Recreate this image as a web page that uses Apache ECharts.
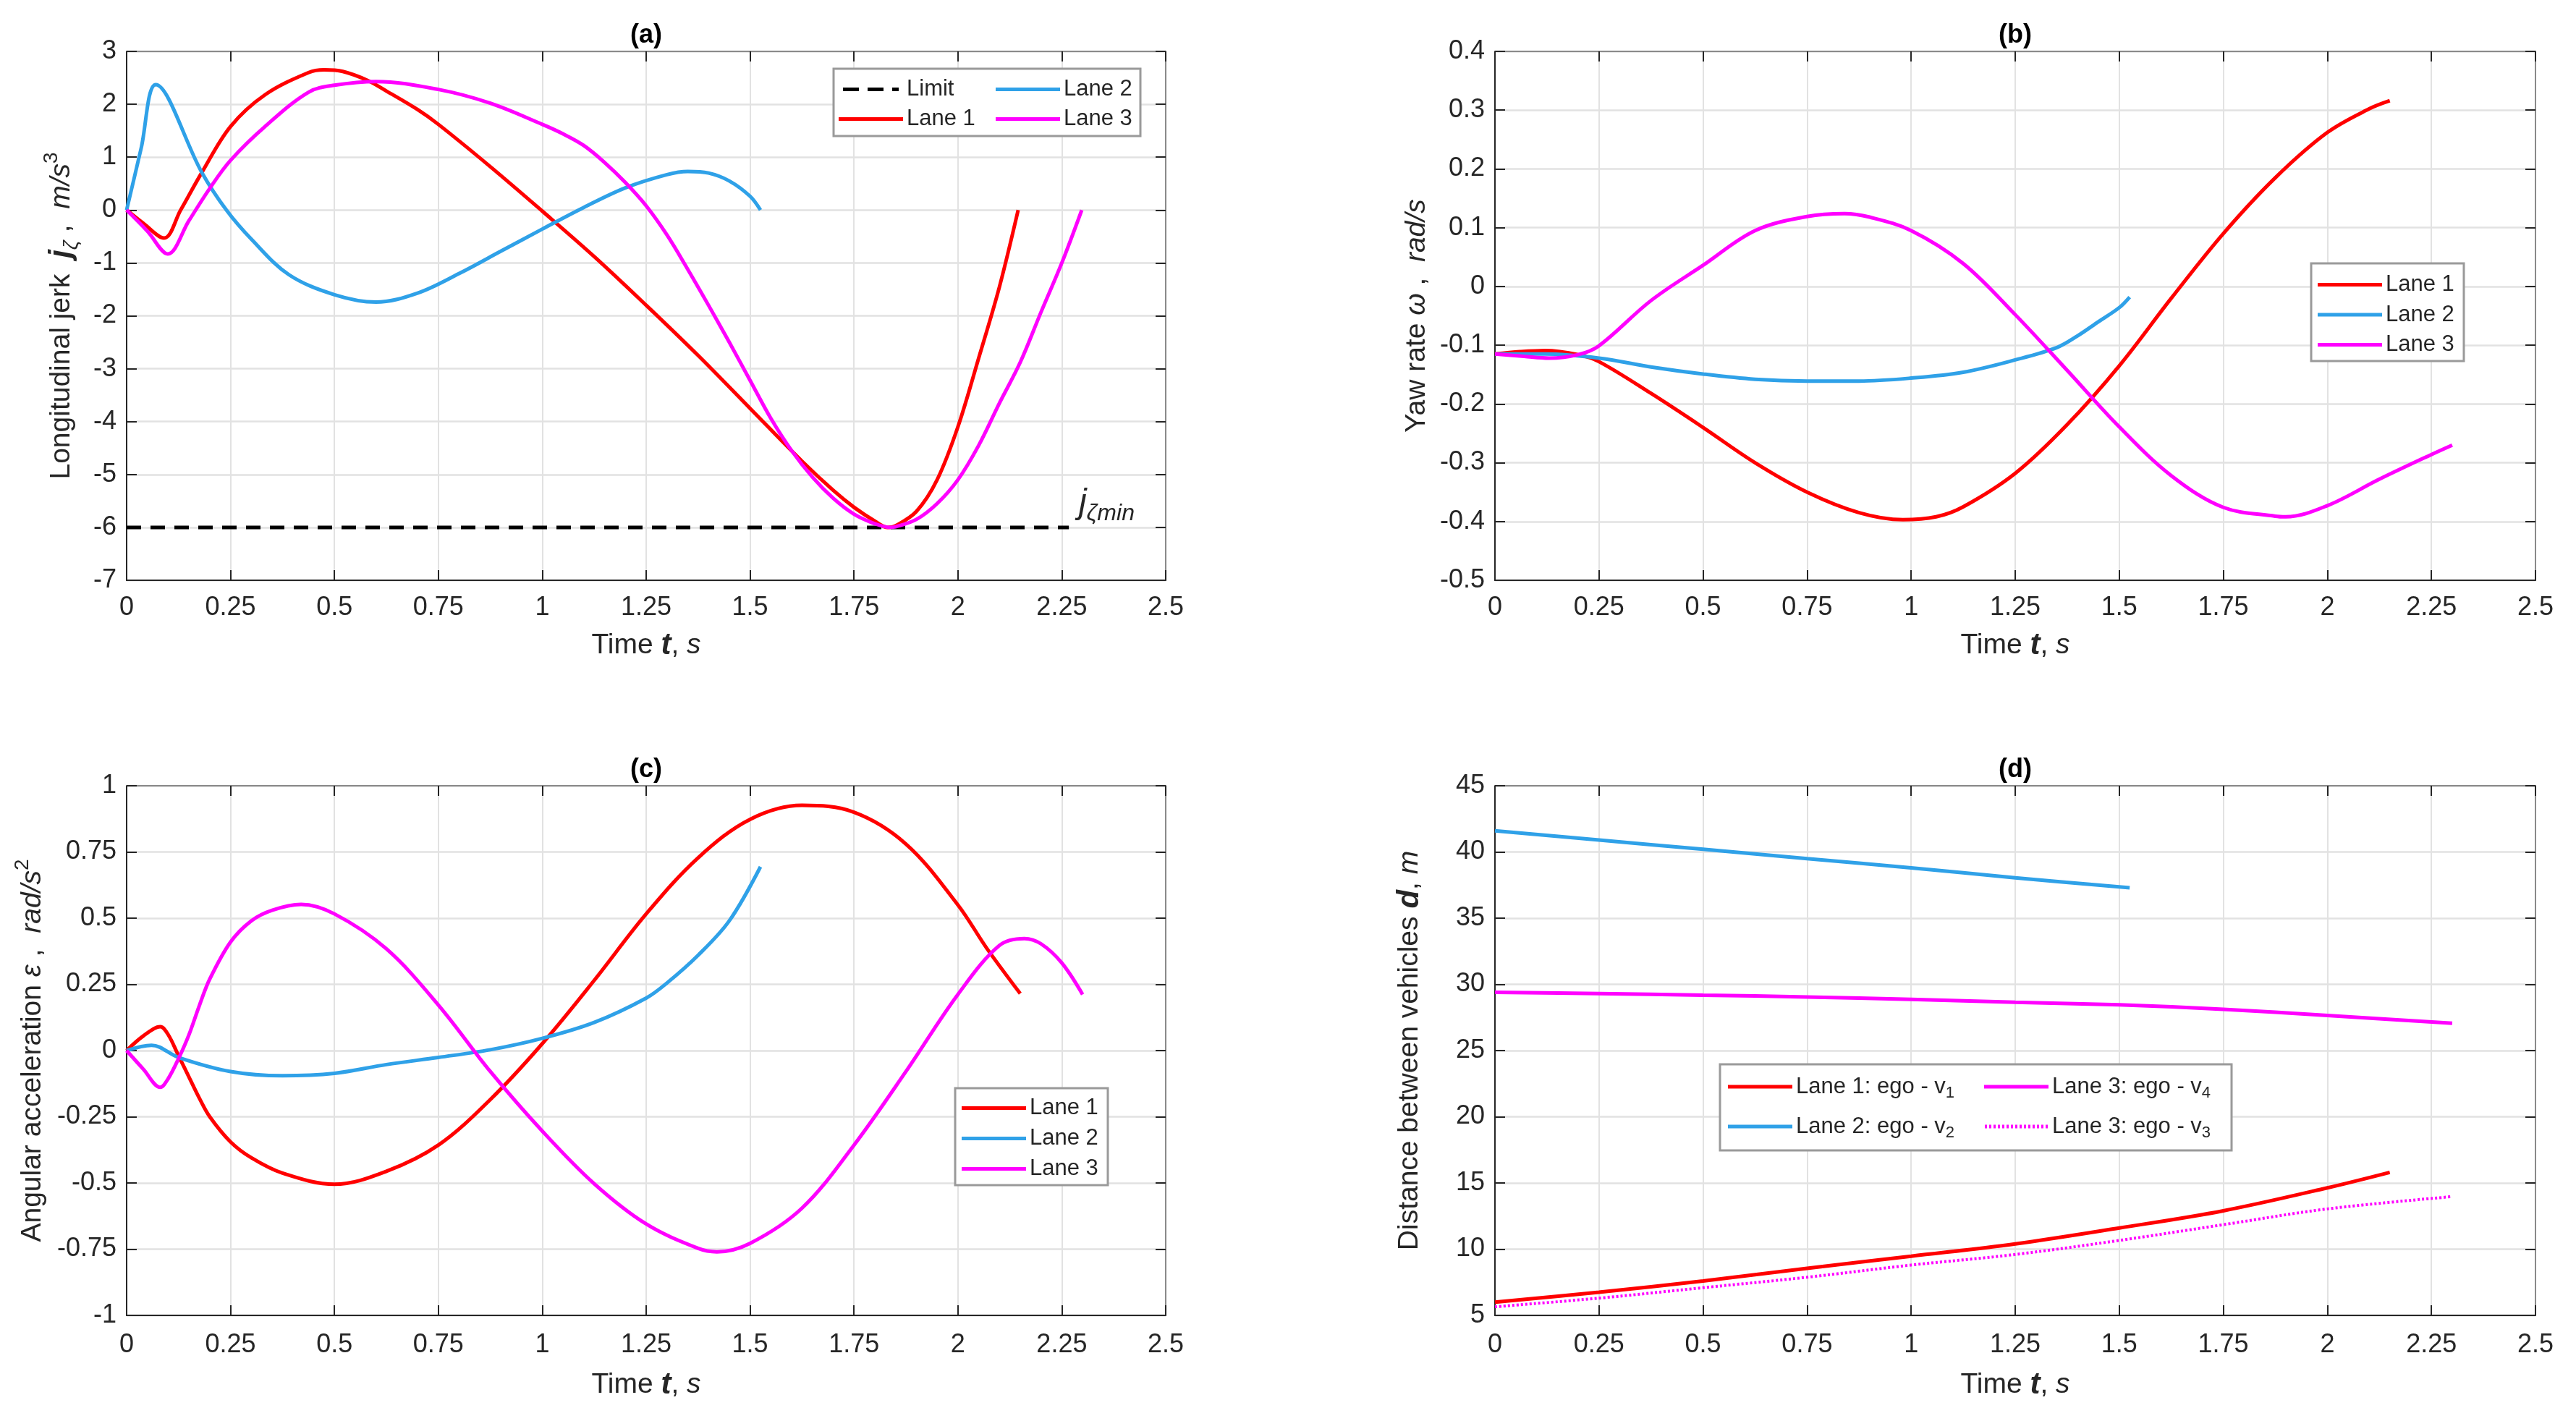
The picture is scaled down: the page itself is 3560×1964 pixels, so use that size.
<!DOCTYPE html>
<html>
<head>
<meta charset="utf-8">
<script src="https://cdn.jsdelivr.net/npm/echarts@6/dist/echarts.min.js"></script>
<style>
html,body{margin:0;padding:0;background:#fff;}
#chart{width:3560px;height:1964px;}
</style>
</head>
<body>
<div id="chart"></div>
<script>
// ---------- DATA ----------
// time ticks
const timeTicks = {min: 0, max: 2.5, interval: 0.25};

// (a) Longitudinal jerk
const a_lane1_t = [0, 0.04, 0.09, 0.13, 0.181, 0.25, 0.333, 0.438, 0.475, 0.52, 0.58, 0.625, 0.7, 0.75, 0.875, 1.0, 1.125, 1.25, 1.375, 1.5, 1.625, 1.7, 1.75, 1.8, 1.831, 1.85, 1.9, 1.95, 2.0, 2.05, 2.1, 2.145];
const a_lane1_j = [0, -0.25, -0.53, 0.0, 0.71, 1.58, 2.18, 2.6, 2.65, 2.62, 2.45, 2.25, 1.9, 1.62, 0.82, -0.02, -0.88, -1.8, -2.75, -3.75, -4.75, -5.3, -5.62, -5.88, -6.0, -5.97, -5.7, -5.1, -4.1, -2.8, -1.45, 0];
const a_lane2_t = [0, 0.035, 0.07, 0.181, 0.24, 0.3, 0.39, 0.5, 0.6, 0.7, 0.8, 0.9, 1.0, 1.1, 1.2, 1.3, 1.35, 1.4, 1.45, 1.5, 1.525];
const a_lane2_j = [0, 1.17, 2.37, 0.71, 0.0, -0.55, -1.22, -1.6, -1.74, -1.57, -1.2, -0.78, -0.36, 0.05, 0.42, 0.67, 0.73, 0.7, 0.55, 0.26, 0];
const a_lane3_t = [0, 0.05, 0.099, 0.15, 0.2, 0.25, 0.333, 0.438, 0.5, 0.6, 0.75, 0.875, 1.0, 1.05, 1.1, 1.15, 1.2, 1.25, 1.3, 1.35, 1.4, 1.45, 1.5, 1.55, 1.6, 1.65, 1.7, 1.75, 1.8, 1.837, 1.85, 1.9, 1.95, 2.0, 2.05, 2.1, 2.15, 2.2, 2.25, 2.298];
const a_lane3_j = [0, -0.4, -0.83, -0.2, 0.41, 0.94, 1.58, 2.23, 2.36, 2.43, 2.28, 2.02, 1.62, 1.44, 1.22, 0.9, 0.52, 0.08, -0.47, -1.12, -1.8, -2.5, -3.22, -3.94, -4.55, -5.05, -5.45, -5.75, -5.93, -6.0, -5.99, -5.85, -5.55, -5.1, -4.45, -3.65, -2.88, -1.93, -1.0, 0];
const a_limit_t = [0, 2.267];
const a_limit_j = [-6, -6];
const a_limitLabelAt = [2.29, -5.55];

// (b) Yaw rate
const b_lane1_t = [0, 0.06, 0.12, 0.2, 0.25, 0.375, 0.5, 0.625, 0.75, 0.875, 0.98, 1.06, 1.125, 1.25, 1.375, 1.5, 1.625, 1.75, 1.875, 2.0, 2.1, 2.15];
const b_lane1_w = [-0.115, -0.111, -0.109, -0.116, -0.128, -0.182, -0.24, -0.3, -0.35, -0.385, -0.397, -0.392, -0.375, -0.318, -0.235, -0.135, -0.02, 0.09, 0.185, 0.262, 0.302, 0.316];
const b_lane2_t = [0, 0.12, 0.25, 0.375, 0.5, 0.625, 0.75, 0.875, 1.0, 1.125, 1.25, 1.35, 1.4, 1.45, 1.5, 1.525];
const b_lane2_w = [-0.115, -0.115, -0.122, -0.137, -0.149, -0.158, -0.161, -0.161, -0.156, -0.146, -0.125, -0.104, -0.084, -0.06, -0.036, -0.018];
const b_lane3_t = [0, 0.07, 0.13, 0.2, 0.25, 0.375, 0.5, 0.625, 0.75, 0.84, 0.9, 1.0, 1.125, 1.25, 1.375, 1.5, 1.625, 1.75, 1.875, 1.9, 2.0, 2.125, 2.25, 2.3];
const b_lane3_w = [-0.115, -0.119, -0.122, -0.116, -0.101, -0.024, 0.036, 0.095, 0.119, 0.124, 0.118, 0.095, 0.039, -0.048, -0.143, -0.239, -0.322, -0.376, -0.391, -0.392, -0.373, -0.328, -0.286, -0.27];

// (c) Angular acceleration
const c_lane1_t = [0, 0.04, 0.081, 0.1, 0.125, 0.15, 0.175, 0.2, 0.25, 0.3, 0.375, 0.5, 0.625, 0.75, 0.875, 1.0, 1.125, 1.25, 1.375, 1.5, 1.625, 1.75, 1.875, 2.0, 2.07, 2.15];
const c_lane1_e = [0, 0.055, 0.09, 0.06, -0.02, -0.1, -0.18, -0.25, -0.345, -0.405, -0.463, -0.505, -0.456, -0.357, -0.185, 0.026, 0.265, 0.516, 0.728, 0.873, 0.926, 0.9, 0.78, 0.55, 0.385, 0.215];
const c_lane2_t = [0, 0.06, 0.125, 0.25, 0.375, 0.5, 0.625, 0.75, 0.875, 1.0, 1.125, 1.25, 1.3, 1.375, 1.45, 1.525];
const c_lane2_e = [0, 0.02, -0.026, -0.079, -0.095, -0.086, -0.053, -0.026, 0.003, 0.046, 0.106, 0.198, 0.255, 0.36, 0.49, 0.694];
const c_lane3_t = [0, 0.04, 0.081, 0.1, 0.125, 0.15, 0.175, 0.2, 0.25, 0.3, 0.35, 0.42, 0.5, 0.625, 0.75, 0.875, 1.0, 1.125, 1.25, 1.375, 1.42, 1.5, 1.625, 1.75, 1.875, 2.0, 2.1, 2.16, 2.2, 2.25, 2.3];
const c_lane3_e = [0, -0.07, -0.139, -0.106, -0.03, 0.06, 0.17, 0.27, 0.41, 0.49, 0.53, 0.552, 0.516, 0.384, 0.172, -0.079, -0.304, -0.503, -0.655, -0.747, -0.76, -0.728, -0.595, -0.357, -0.079, 0.212, 0.397, 0.423, 0.403, 0.331, 0.212];

// (d) Distance between vehicles
const d_lane1_t = [0, 0.25, 0.5, 0.75, 1.0, 1.25, 1.5, 1.75, 2.0, 2.15];
const d_lane1_v1 = [6.0, 6.75, 7.6, 8.55, 9.47, 10.4, 11.6, 12.9, 14.63, 15.8];
const d_lane2_t = [0, 0.25, 0.5, 0.75, 1.0, 1.25, 1.525];
const d_lane2_v2 = [41.6, 40.9, 40.2, 39.5, 38.8, 38.05, 37.3];
const d_lane3_t = [0, 0.25, 0.5, 0.75, 1.0, 1.25, 1.5, 1.75, 2.0, 2.3];
const d_lane3_v4 = [29.4, 29.31, 29.18, 29.05, 28.86, 28.65, 28.45, 28.12, 27.65, 27.06];
const d_lane3_v3 = [5.65, 6.3, 7.09, 7.88, 8.8, 9.6, 10.66, 11.85, 13.04, 13.97];

// axis ranges
const a_yRange = {min: -7, max: 3, interval: 1};
const b_yRange = {min: -0.5, max: 0.4, interval: 0.1};
const c_yRange = {min: -1, max: 1, interval: 0.25};
const d_yRange = {min: 5, max: 45, interval: 5};

// names
const panelTitles = ['(a)', '(b)', '(c)', '(d)'];
const seriesNames = {limit: 'Limit', l1: 'Lane 1', l2: 'Lane 2', l3: 'Lane 3',
  d1: 'Lane 1: ego - v1', d2: 'Lane 2: ego - v2', d4: 'Lane 3: ego - v4', d3: 'Lane 3: ego - v3'};

// ---------- STYLE / LAYOUT ----------
const FONT = "'Liberation Sans', Arial, Helvetica, sans-serif";
const INK = '#262626';
const RED = '#ff0000', BLUE = '#2fa1e8', MAG = '#ff00ff';
const LW = 5;
const grids = [
  {left: 175, top: 71, width: 1436, height: 731},
  {left: 2066, top: 71, width: 1438, height: 731},
  {left: 175, top: 1086, width: 1436, height: 732},
  {left: 2066, top: 1086, width: 1438, height: 732}
];
const yNameGaps = [62, 76, 102, 90];
const xNameGaps = [62, 62, 68, 68];
const xLabelMargins = [20, 20, 23, 23];

const nameRich = {
  bi: {fontStyle: 'italic', fontWeight: 'bold', fontSize: 42, lineHeight: 56, fontFamily: FONT, color: INK},
  it: {fontStyle: 'italic', fontSize: 39, lineHeight: 56, fontFamily: FONT, color: INK},
  n: {fontSize: 39, lineHeight: 56, fontFamily: FONT, color: INK},
  sub: {fontStyle: 'italic', fontSize: 28, lineHeight: 26, verticalAlign: 'bottom', fontFamily: FONT, color: INK},
  sup: {fontSize: 28, lineHeight: 26, verticalAlign: 'top', fontFamily: FONT, color: INK}
};
const yNames = [
  'Longitudinal jerk  {bi|j}{sub|ζ}{n| ,  }{it|m/s}{sup|3}',
  'Yaw rate {it|ω}{n| ,  }{it|rad/s}',
  'Angular acceleration {it|ε}{n| ,  }{it|rad/s}{sup|2}',
  'Distance between vehicles {bi|d}{n|, }{it|m}'
];
const xName = 'Time {bi|t}{n|, }{it|s}';
const yRanges = [a_yRange, b_yRange, c_yRange, d_yRange];

const fmt = v => String(+(+v).toFixed(2));

const xAxes = [], yAxes = [];
grids.forEach((g, i) => {
  const line = {show: true, onZero: false, lineStyle: {color: INK, width: 2}};
  const lineLight = {show: true, onZero: false, lineStyle: {color: '#8a8a8a', width: 2}};
  const tick = {show: true, inside: true, length: 14, lineStyle: {color: INK, width: 2}};
  xAxes.push({
    gridIndex: i, type: 'value', position: 'bottom',
    min: timeTicks.min, max: timeTicks.max, interval: timeTicks.interval,
    name: xName, nameLocation: 'middle', nameGap: xNameGaps[i],
    nameTextStyle: {fontSize: 39, lineHeight: 50, color: INK, fontFamily: FONT, rich: nameRich},
    axisLine: line, axisTick: tick,
    axisLabel: {fontSize: 36, color: INK, fontFamily: FONT, margin: xLabelMargins[i], formatter: fmt},
    splitLine: {show: true, lineStyle: {color: '#e2e2e2', width: 2}}
  });
  xAxes.push({
    gridIndex: i, type: 'value', position: 'top',
    min: timeTicks.min, max: timeTicks.max, interval: timeTicks.interval,
    axisLine: lineLight, axisTick: tick, axisLabel: {show: false}, splitLine: {show: false}
  });
  const r = yRanges[i];
  yAxes.push({
    gridIndex: i, type: 'value', position: 'left',
    min: r.min, max: r.max, interval: r.interval,
    name: yNames[i], nameLocation: 'middle', nameGap: yNameGaps[i],
    nameTextStyle: {fontSize: 39, lineHeight: 56, color: INK, fontFamily: FONT, rich: nameRich},
    axisLine: line, axisTick: tick,
    axisLabel: {fontSize: 36, color: INK, fontFamily: FONT, margin: 14, formatter: fmt},
    splitLine: {show: true, lineStyle: {color: '#e2e2e2', width: 2.5}}
  });
  yAxes.push({
    gridIndex: i, type: 'value', position: 'right',
    min: r.min, max: r.max, interval: r.interval,
    axisLine: lineLight, axisTick: tick, axisLabel: {show: false}, splitLine: {show: false}
  });
});

const pairs = (t, v) => t.map((x, k) => [x, v[k]]);
function lineSeries(name, gi, t, v, color, extra) {
  return Object.assign({
    type: 'line', name: name, xAxisIndex: gi * 2, yAxisIndex: gi * 2,
    data: pairs(t, v), symbol: 'none', showSymbol: false, smooth: 0.35,
    lineStyle: {color: color, width: LW}, itemStyle: {color: color},
    z: 3, animation: false
  }, extra || {});
}

const series = [
  lineSeries(seriesNames.limit, 0, a_limit_t, a_limit_j, '#000000', {
    smooth: false,
    lineStyle: {color: '#000', width: 5, type: [20, 13]},
    markPoint: {
      symbol: 'circle', symbolSize: 1, itemStyle: {color: 'rgba(0,0,0,0)'},
      data: [{coord: a_limitLabelAt}],
      label: {
        show: true, position: 'right', distance: 0,
        formatter: '{j|j}{s|ζmin}',
        rich: {
          j: {fontSize: 48, fontStyle: 'italic', color: INK, fontFamily: FONT, lineHeight: 60},
          s: {fontSize: 32, fontStyle: 'italic', color: INK, fontFamily: FONT, lineHeight: 30, verticalAlign: 'bottom'}
        }
      }
    }
  }),
  lineSeries(seriesNames.l1, 0, a_lane1_t, a_lane1_j, RED),
  lineSeries(seriesNames.l2, 0, a_lane2_t, a_lane2_j, BLUE),
  lineSeries(seriesNames.l3, 0, a_lane3_t, a_lane3_j, MAG),

  lineSeries(seriesNames.l1, 1, b_lane1_t, b_lane1_w, RED),
  lineSeries(seriesNames.l2, 1, b_lane2_t, b_lane2_w, BLUE),
  lineSeries(seriesNames.l3, 1, b_lane3_t, b_lane3_w, MAG),

  lineSeries(seriesNames.l1, 2, c_lane1_t, c_lane1_e, RED),
  lineSeries(seriesNames.l2, 2, c_lane2_t, c_lane2_e, BLUE),
  lineSeries(seriesNames.l3, 2, c_lane3_t, c_lane3_e, MAG),

  lineSeries(seriesNames.d1, 3, d_lane1_t, d_lane1_v1, RED),
  lineSeries(seriesNames.d4, 3, d_lane3_t, d_lane3_v4, MAG),
  lineSeries(seriesNames.d2, 3, d_lane2_t, d_lane2_v2, BLUE),
  lineSeries(seriesNames.d3, 3, d_lane3_t, d_lane3_v3, MAG, {lineStyle: {color: MAG, width: 4, type: [3, 3]}})
];

// legend icons (line samples)
const ICON_SOLID = 'rect';
const ICON_DASH = 'path://M0,0h22v5h-22z M34,0h22v5h-22z M68,0h9v5h-9z';
const ICON_DOT = 'path://' + Array.from({length: 15}, (_, k) => 'M' + (k * 6) + ',0h3v5h-3z').join(' ');
const item = (name, icon) => ({name: name, icon: icon});

const legText = {fontSize: 31, color: INK, fontFamily: FONT, lineHeight: 30};
function legend(data, left, top, gap, extra) {
  return Object.assign({
    data: data, left: left, top: top, orient: 'vertical',
    itemWidth: 89, itemHeight: 5, itemGap: gap, padding: 0,
    textStyle: legText, selectedMode: false, z: 6
  }, extra || {});
}
const dRich = {
  textStyle: {fontSize: 31, color: INK, fontFamily: FONT, lineHeight: 40,
    rich: {s: {fontSize: 22, color: INK, fontFamily: FONT, lineHeight: 16, verticalAlign: 'bottom'}}},
  formatter: n => n.replace(/v(\d)$/, 'v{s|$1}')
};
const legends = [
  legend([item(seriesNames.limit, ICON_DASH), item(seriesNames.l1, ICON_SOLID)], 1159, 108, 10),
  legend([item(seriesNames.l2, ICON_SOLID), item(seriesNames.l3, ICON_SOLID)], 1376, 108, 10),
  legend([item(seriesNames.l1, ICON_SOLID), item(seriesNames.l2, ICON_SOLID), item(seriesNames.l3, ICON_SOLID)], 3203, 378, 10.5),
  legend([item(seriesNames.l1, ICON_SOLID), item(seriesNames.l2, ICON_SOLID), item(seriesNames.l3, ICON_SOLID)], 1329, 1516, 11),
  legend([item(seriesNames.d1, ICON_SOLID), item(seriesNames.d2, ICON_SOLID)], 2388, 1482, 15, dRich),
  legend([item(seriesNames.d4, ICON_SOLID), item(seriesNames.d3, ICON_DOT)], 2742, 1482, 15, dRich)
];

const boxes = [
  {x: 1152, y: 95, w: 424, h: 93},
  {x: 3194, y: 364, w: 211, h: 135},
  {x: 1320, y: 1504, w: 211, h: 134},
  {x: 2377, y: 1471, w: 707, h: 119}
];
const graphics = boxes.map(b => ({
  type: 'rect', z: 5, shape: {x: b.x, y: b.y, width: b.w, height: b.h},
  style: {fill: '#ffffff', stroke: '#9a9a9a', lineWidth: 3}
}));
grids.forEach((g, i) => {
  graphics.push({
    type: 'text', z: 6, x: g.left + g.width / 2, y: g.top - 22,
    style: {text: panelTitles[i], fontSize: 36, fontWeight: 'bold', fontFamily: FONT, fill: '#000',
      align: 'center', verticalAlign: 'middle', textAlign: 'center', textVerticalAlign: 'middle'}
  });
});

const chart = echarts.init(document.getElementById('chart'), null, {renderer: 'canvas'});
chart.setOption({
  animation: false,
  backgroundColor: '#ffffff',
  grid: grids.map(g => Object.assign({containLabel: false}, g)),
  xAxis: xAxes,
  yAxis: yAxes,
  legend: legends,
  graphic: graphics,
  series: series
});
</script>
</body>
</html>
